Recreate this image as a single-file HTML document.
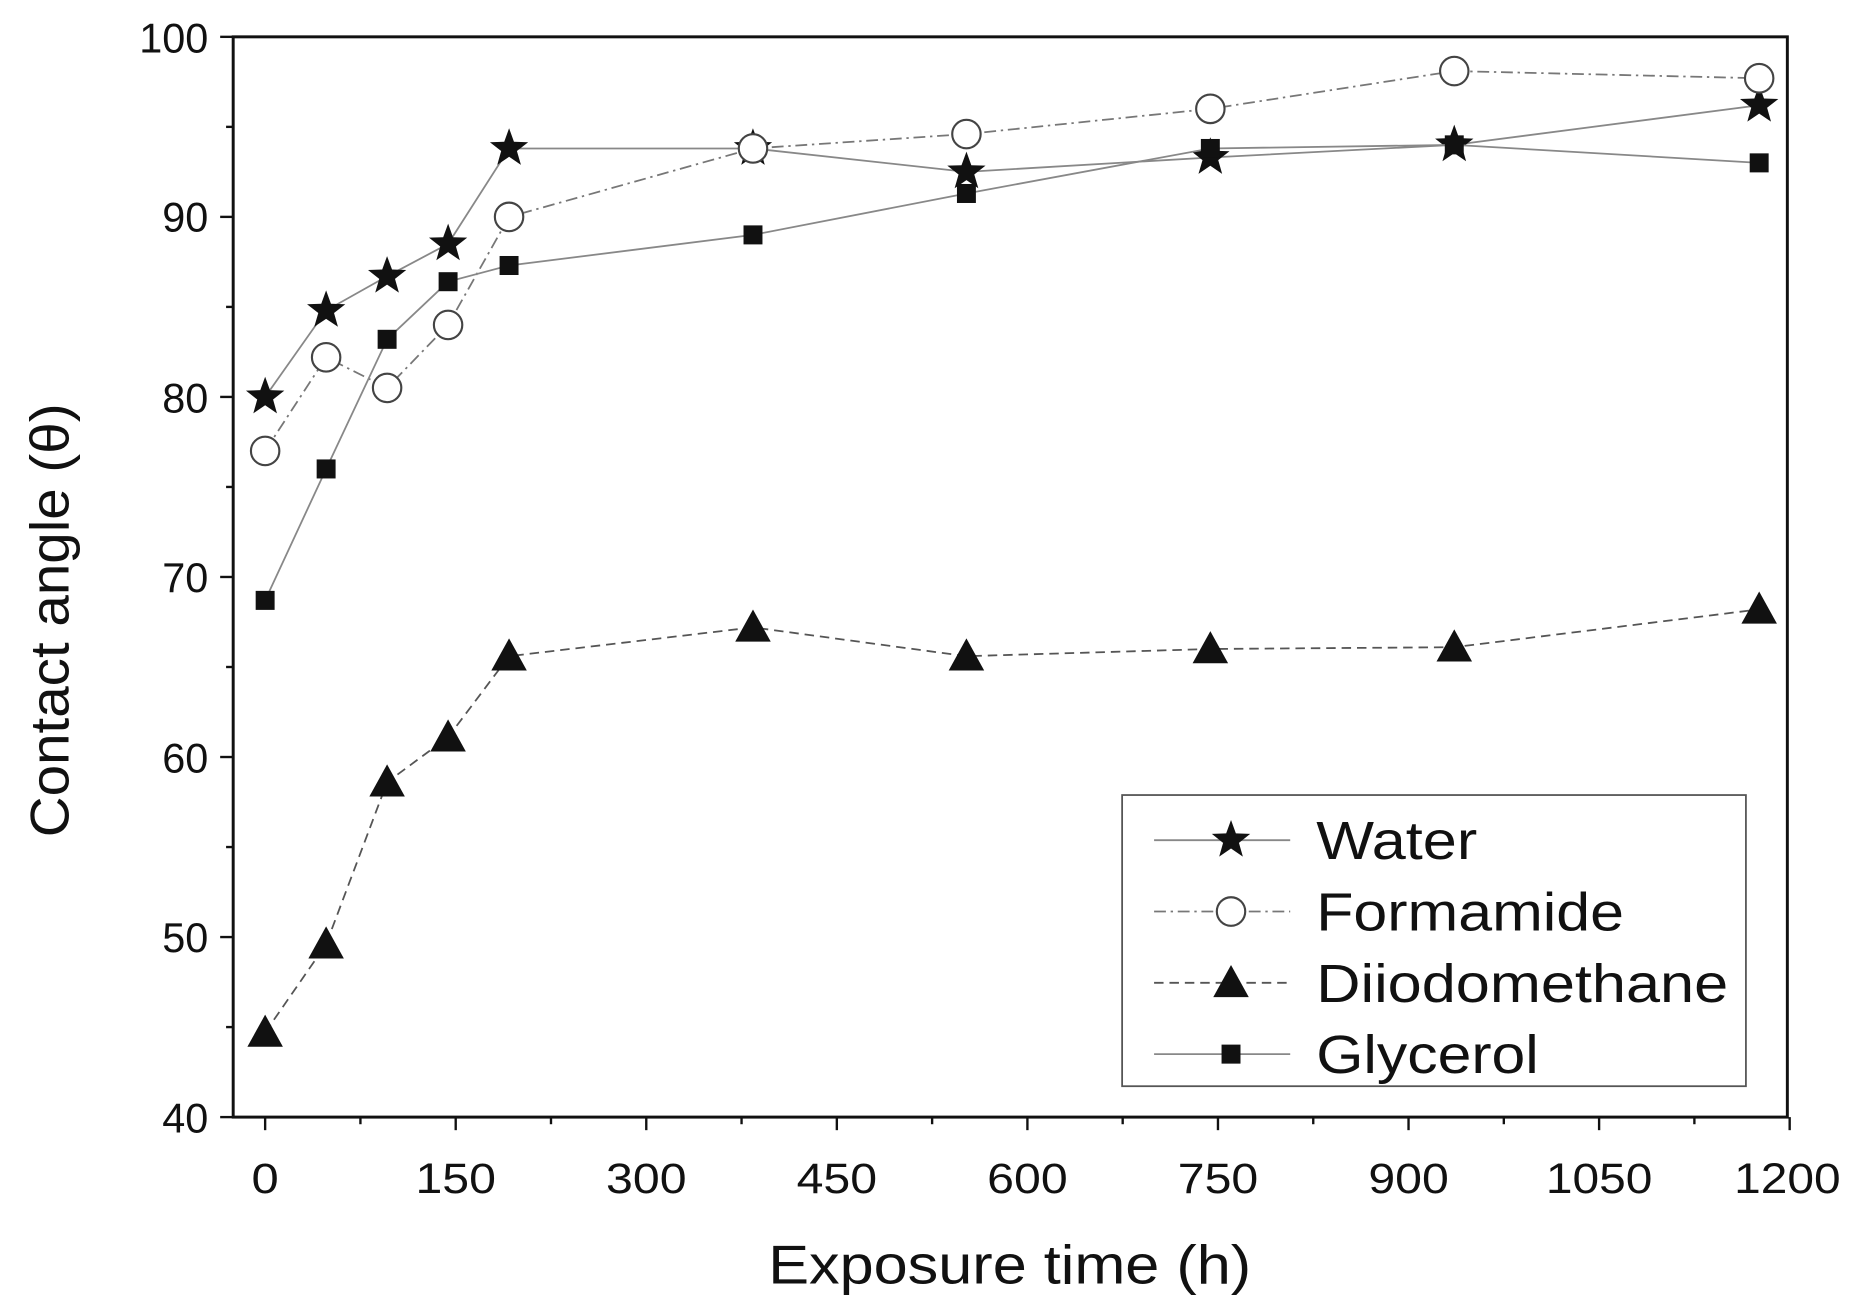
<!DOCTYPE html>
<html><head><meta charset="utf-8"><style>
html,body{margin:0;padding:0;background:#fff;}
svg{display:block;}
text{font-family:"Liberation Sans",sans-serif;fill:#111;}
</style></head><body>
<svg id="s" width="1856" height="1312" viewBox="0 0 1568 1104" preserveAspectRatio="none" xmlns="http://www.w3.org/2000/svg">
<rect x="0" y="0" width="1568" height="1104" fill="#fff"/>
<g id="ticks"></g>
<g id="data"></g>
<rect x="197" y="31" width="1313" height="909" fill="none" stroke="#111" stroke-width="2.5"/>
<g font-size="35" text-anchor="end">
<text x="176" y="44">100</text><text x="176" y="195">90</text><text x="176" y="347">80</text>
<text x="176" y="498">70</text><text x="176" y="650">60</text><text x="176" y="801">50</text><text x="176" y="953">40</text>
</g>
<g font-size="36" text-anchor="middle" lengthAdjust="spacingAndGlyphs">
<text x="224" y="1004" textLength="23" lengthAdjust="spacingAndGlyphs">0</text>
<text x="385" y="1004" textLength="68" lengthAdjust="spacingAndGlyphs">150</text>
<text x="546" y="1004" textLength="68" lengthAdjust="spacingAndGlyphs">300</text>
<text x="707" y="1004" textLength="68" lengthAdjust="spacingAndGlyphs">450</text>
<text x="868" y="1004" textLength="68" lengthAdjust="spacingAndGlyphs">600</text>
<text x="1029" y="1004" textLength="68" lengthAdjust="spacingAndGlyphs">750</text>
<text x="1190" y="1004" textLength="68" lengthAdjust="spacingAndGlyphs">900</text>
<text x="1351" y="1004" textLength="90" lengthAdjust="spacingAndGlyphs">1050</text>
<text x="1510" y="1004" textLength="90" lengthAdjust="spacingAndGlyphs">1200</text>
</g>
<text x="853" y="1080" font-size="46" text-anchor="middle" textLength="408" lengthAdjust="spacingAndGlyphs">Exposure time (h)</text>
<text transform="translate(58,522) rotate(-90)" font-size="46" text-anchor="middle" textLength="365" lengthAdjust="spacingAndGlyphs">Contact angle (θ)</text>
<rect x="948" y="669" width="527" height="245" fill="#fff" stroke="#555" stroke-width="1.5"/>
<g id="leg"></g>
<g font-size="45">
<text x="1112" y="723" textLength="136" lengthAdjust="spacingAndGlyphs">Water</text>
<text x="1112" y="783" textLength="260" lengthAdjust="spacingAndGlyphs">Formamide</text>
<text x="1112" y="843" textLength="348" lengthAdjust="spacingAndGlyphs">Diiodomethane</text>
<text x="1112" y="903" textLength="188" lengthAdjust="spacingAndGlyphs">Glycerol</text>
</g>
</svg>
<script>
const NS="http://www.w3.org/2000/svg";
function el(p,t,a){const e=document.createElementNS(NS,t);for(const k in a)e.setAttribute(k,a[k]);p.appendChild(e);return e;}
const X=h=>224+h*1.0733, Y=v=>940-(v-40)*15.15;
const tk=document.getElementById('ticks');
for(let h=0;h<=1200;h+=75){const x=X(h);el(tk,'line',{x1:x,x2:x,y1:940,y2:940+(h%150?6:11),stroke:'#111','stroke-width':2});}
for(let v=40;v<=100;v+=5){const y=Y(v);el(tk,'line',{x1:197,x2:197-(v%10?6:11),y1:y,y2:y,stroke:'#111','stroke-width':2});}
const hs=[0,48,96,144,192,384,552,744,936,1176];
const S=[
 {v:[80,84.8,86.7,88.5,93.8,93.8,92.5,93.3,94,96.2],m:'star',d:'',c:'#888'},
 {v:[77,82.2,80.5,84,90,93.8,94.6,96,98.1,97.7],m:'circ',d:'10 4 2 4',c:'#777'},
 {v:[44.7,49.6,58.6,61.1,65.6,67.2,65.6,66,66.1,68.2],m:'tri',d:'8 5',c:'#555'},
 {v:[68.7,76,83.2,86.4,87.3,89,91.3,93.8,94,93],m:'sq',d:'',c:'#888'}];
function mk(g,t,x,y){
 if(t=='star'){let p=[];for(let i=0;i<10;i++){const r=i%2?7:17,a=-Math.PI/2+i*Math.PI/5;p.push((x+r*Math.cos(a)).toFixed(1)+','+(y+r*Math.sin(a)).toFixed(1));}el(g,'polygon',{points:p.join(' '),fill:'#111'});}
 else if(t=='circ')el(g,'circle',{cx:x,cy:y,r:12,fill:'#fff',stroke:'#444','stroke-width':1.8});
 else if(t=='tri')el(g,'polygon',{points:`${x},${y-15} ${x+15},${y+12} ${x-15},${y+12}`,fill:'#111'});
 else el(g,'rect',{x:x-8,y:y-8,width:16,height:16,fill:'#111'});
}
const g=document.getElementById('data'),lg=document.getElementById('leg');
S.forEach((s,i)=>{
 el(g,'polyline',{points:hs.map((h,j)=>X(h)+','+Y(s.v[j])).join(' '),fill:'none',stroke:s.c,'stroke-width':1.5,'stroke-dasharray':s.d});
 hs.forEach((h,j)=>mk(g,s.m,X(h),Y(s.v[j])));
 const y=707+60*i;
 el(lg,'line',{x1:975,x2:1090,y1:y,y2:y,stroke:s.c,'stroke-width':1.5,'stroke-dasharray':s.d});
 mk(lg,s.m,1040,y);
});
</script>
</body></html>
